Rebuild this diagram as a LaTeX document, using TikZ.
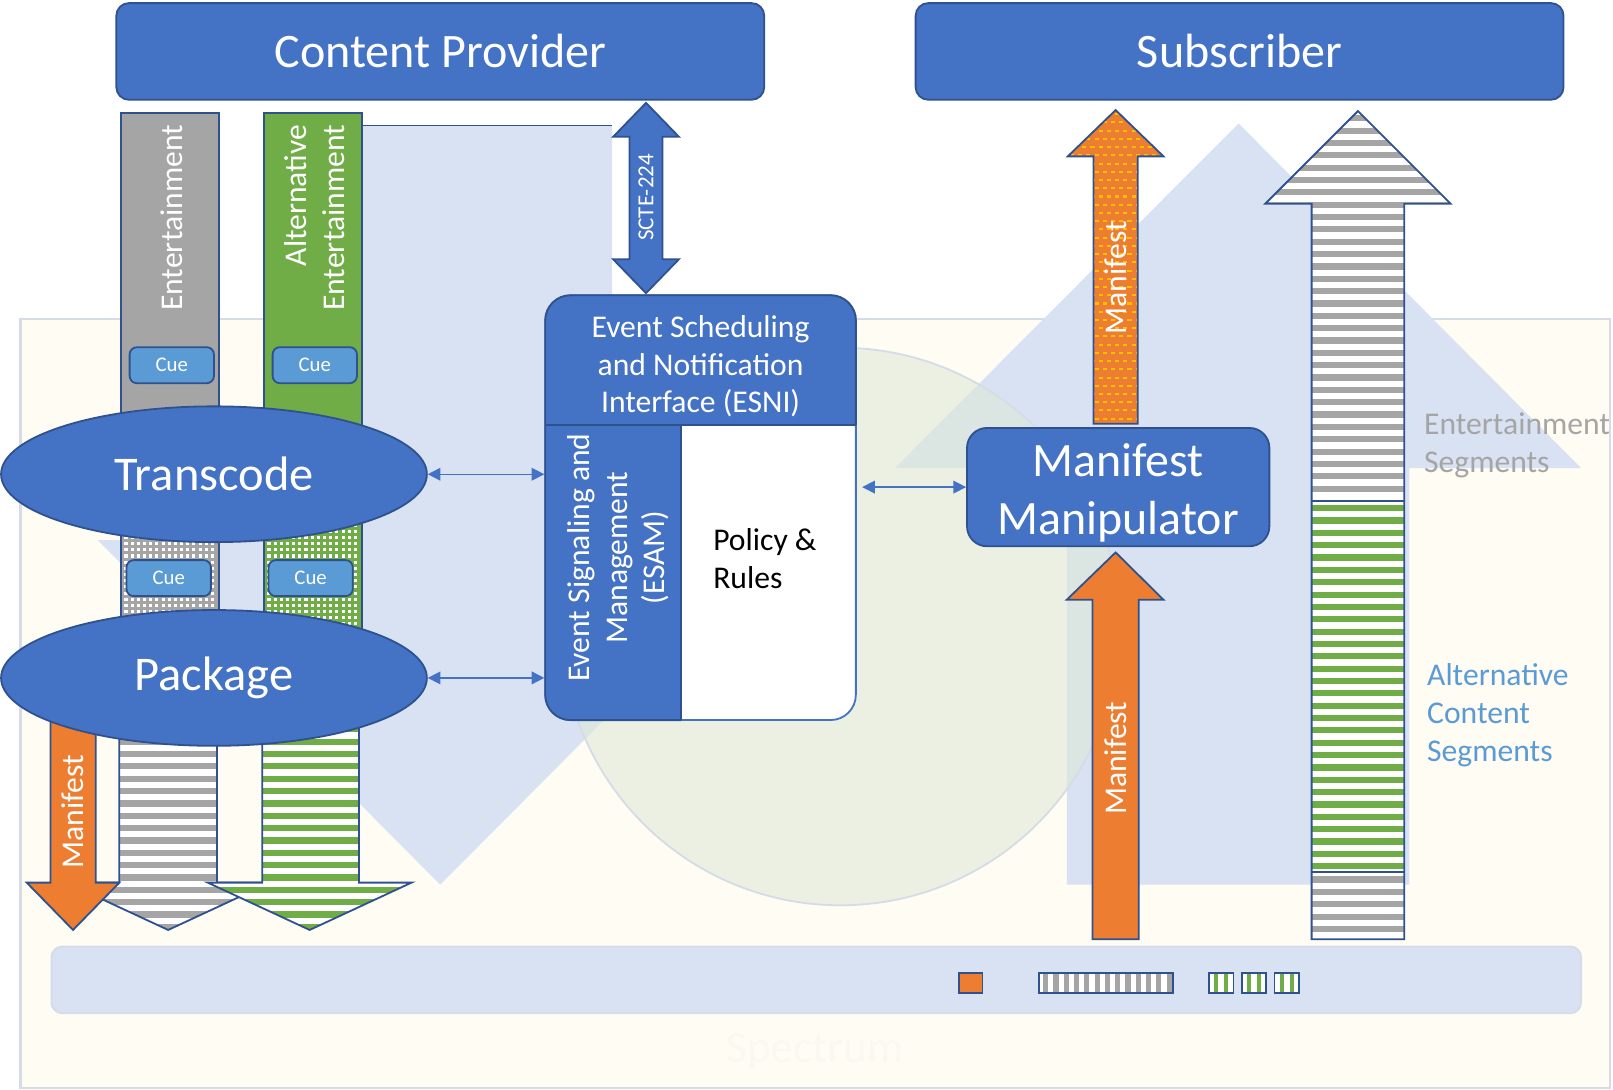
\documentclass[tikz,border=0pt]{standalone}
\usepackage{fontspec}
\setmainfont{Carlito}
\usetikzlibrary{shapes.geometric,arrows.meta}
\definecolor{dblue}{HTML}{4472C4}
\definecolor{bord}{HTML}{2F528F}
\definecolor{cueblue}{HTML}{5B9BD5}
\definecolor{sgray}{HTML}{A5A5A5}
\definecolor{sgreen}{HTML}{70AD47}
\definecolor{sorange}{HTML}{ED7D31}
\definecolor{syellow}{HTML}{FFC000}
\definecolor{lblue}{HTML}{D9E2F3}
\definecolor{cream}{HTML}{FFFCF3}
\definecolor{lbord}{HTML}{D5DCE8}
\definecolor{cgreen}{HTML}{DDE9D8}
\definecolor{spec}{HTML}{FAF8F0}
\begin{document}
\begin{tikzpicture}[x=0.02cm,y=-0.02cm,
  every node/.style={inner sep=0pt},
  boxb/.style={draw=bord,fill=dblue,line width=1pt,rounded corners=7pt,text=white},
  cue/.style={draw=bord,fill=cueblue,line width=1pt,rounded corners=4pt,text=white,minimum width=1.64cm,minimum height=0.7cm,font=\fontsize{11.5}{14}\selectfont},
  ell/.style={ellipse,draw=bord,fill=dblue,line width=1pt,text=white,minimum width=8.28cm,minimum height=2.64cm,font=\fontsize{26.8}{32}\selectfont},
  wtxt/.style={text=white,font=\fontsize{17.5}{21}\selectfont},
  dbl/.style={draw=dblue,line width=0.8pt,{Triangle[length=7pt,width=7pt]}-{Triangle[length=7pt,width=7pt]}},
  outl/.style={draw=bord,line width=1pt},
]
\useasboundingbox (0,0) rectangle (1568,1059);

% ---------- background ----------
\draw[fill=cream,draw=lbord,line width=1.2pt] (20,310) rectangle (1565,1058);
\draw[fill=lblue,draw=lbord,line width=1pt,rounded corners=6pt] (50,920) rectangle (1537,985);
\fill[lblue] (261,122) -- (595,122) -- (595,525) -- (761,525) -- (428,860) -- (95,525) -- (261,525) -- cycle;
\draw[bord,line width=0.6pt] (352,122) -- (595,122);
\fill[lblue] (1204,120) -- (1537,455) -- (1370,455) -- (1370,860) -- (1037,860) -- (1037,455) -- (870,455) -- cycle;
\draw[fill=cgreen,fill opacity=0.58,draw=lbord,line width=1pt] (817,609) circle [radius=271];
\node[text=spec,font=\fontsize{25}{30}\selectfont] (spec) at (792,1022) {Spectrum};

% ---------- band items ----------
\draw[outl,fill=sorange] (932,946) rectangle (955,965);
\fill[white] (1010,946) rectangle (1140,965);
\foreach \x in {1014,1024,...,1134} \fill[sgray] (\x,946) rectangle ({\x+5},965);
\draw[outl] (1010,946) rectangle (1140,965);
\foreach \bx in {1175,1207,1239} {
  \fill[white] (\bx,946) rectangle ({\bx+24},965);
  \fill[sgreen] ({\bx+5},946) rectangle ({\bx+9},965);
  \fill[sgreen] ({\bx+15},946) rectangle ({\bx+19},965);
  \draw[outl] (\bx,946) rectangle ({\bx+24},965);
}

% ---------- top boxes ----------
\node[boxb,minimum width=12.6cm,minimum height=1.88cm,font=\fontsize{26.6}{32}\selectfont] (cp) at (428,50) {Content Provider};
\node[boxb,minimum width=12.6cm,minimum height=1.88cm,font=\fontsize{26.6}{32}\selectfont] (sub) at (1205,50) {Subscriber};

% ---------- SCTE-224 ----------
\draw[outl,fill=dblue] (628,100) -- (660,133) -- (644,133) -- (644,252) -- (660,252) -- (628,285) -- (596,252) -- (612,252) -- (612,133) -- (596,133) -- cycle;
\node[wtxt,rotate=90,font=\fontsize{12.7}{15}\selectfont] (scte) at (628,192) {SCTE-224};

% ---------- upper bars ----------
\draw[outl,fill=sgray] (118,110) rectangle (213,440);
\draw[outl,fill=sgreen] (257,110) rectangle (352,440);
\node[wtxt,rotate=90,anchor=east] (ent) at (167,121) {Entertainment};
\node[wtxt,rotate=90,anchor=east,align=right] (alt) at (306,121) {Alternative\\Entertainment};
\node[cue] (cue1) at (167,355) {Cue};
\node[cue] (cue2) at (306,355) {Cue};

% ---------- dotted bars ----------
\fill[sgray] (118,500) rectangle (213,620);
\foreach \x in {121,127,...,210} \foreach \y in {503,509,...,617} \fill[white] (\x,\y) rectangle ++(3,3);
\draw[outl] (118,500) rectangle (213,620);
\fill[sgreen] (257,500) rectangle (352,620);
\foreach \x in {260,266,...,349} \foreach \y in {503,509,...,617} \fill[white] (\x,\y) rectangle ++(3,3);
\draw[outl] (257,500) rectangle (352,620);
\node[cue] (cue3) at (164,562) {Cue};
\node[cue] (cue4) at (302,562) {Cue};

% ---------- down arrows ----------
\begin{scope}
\clip (116,680) -- (211,680) -- (211,858) -- (262.5,858) -- (163.5,904) -- (64.5,858) -- (116,858) -- cycle;
\fill[white] (60,680) rectangle (270,905);
\foreach \y in {682,694,...,904} \fill[sgray] (60,\y) rectangle (270,{\y+6});
\end{scope}
\draw[outl,line join=round] (116,680) -- (211,680) -- (211,858) -- (262.5,858) -- (163.5,904) -- (64.5,858) -- (116,858) -- cycle;

\draw[outl,fill=sorange] (49,680) -- (93,680) -- (93,858) -- (116,858) -- (71,904) -- (26,858) -- (49,858) -- cycle;
\node[wtxt,rotate=90] (man1) at (71,789) {Manifest};

\begin{scope}
\clip (255,680) -- (349,680) -- (349,858) -- (400,858) -- (301,904) -- (202,858) -- (255,858) -- cycle;
\fill[white] (200,680) rectangle (405,905);
\foreach \y in {682,694,...,904} \fill[sgreen] (200,\y) rectangle (405,{\y+6});
\end{scope}
\draw[outl] (255,680) -- (349,680) -- (349,858) -- (400,858) -- (301,904) -- (202,858) -- (255,858) -- cycle;

% ---------- ellipses ----------
\node[ell] (tc) at (208,461) {Transcode};
\node[ell] (pk) at (208,659) {Package};

% ---------- ESNI box ----------
\node[draw=dblue,fill=white,line width=1pt,rounded corners=14pt,minimum width=6.04cm,minimum height=8.26cm] (esnibox) at (681,493.5) {};
\begin{scope}
\clip[rounded corners=14pt] (530,287) rectangle (832,700);
\fill[dblue] (530,287) rectangle (832,413);
\fill[dblue] (530,413) rectangle (662,700);
\draw[bord,line width=1pt] (530,413) -- (832,413);
\draw[bord,line width=1pt] (662,413) -- (662,700);
\end{scope}
\draw[bord,line width=1pt,rounded corners=14pt] (662,700) -- (530,700) -- (530,287) -- (832,287) -- (832,413);
\node[wtxt,align=center] (esni) at (681,356) {Event Scheduling\\and Notification\\Interface (ESNI)};
\node[wtxt,rotate=90,align=center] (esam) at (601,542) {Event Signaling and\\Management\\(ESAM)};
\node[font=\fontsize{17.5}{21}\selectfont,align=left,anchor=west] (pol) at (693,543) {Policy \&\\Rules};

% ---------- connectors ----------
\draw[dbl] (tc.east) -- (tc.east -| esnibox.west);
\draw[dbl] (pk.east) -- (pk.east -| esnibox.west);

% ---------- Manifest Manipulator ----------
\node[boxb,rounded corners=11pt,minimum width=5.88cm,minimum height=2.3cm,font=\fontsize{26.5}{32}\selectfont,align=center] (mm) at (1087,473.5) {};
\node[text=white,font=\fontsize{26.5}{32}\selectfont,align=center] (mmt) at (1087,479) {Manifest\\Manipulator};
\draw[dbl,shorten <=3pt] (mm.west -| esnibox.east) -- (mm.west);

% ---------- right arrows ----------
\begin{scope}
\clip (1063,412) -- (1063,152) -- (1038,152) -- (1084.5,107) -- (1131,152) -- (1106,152) -- (1106,412) -- cycle;
\fill[sorange] (1030,100) rectangle (1140,415);
\foreach \y in {110,126,...,410} {\foreach \x in {1036,1044,...,1130} \fill[syellow] (\x,\y) rectangle ({\x+4},{\y+2});}
\foreach \y in {118,134,...,410} {\foreach \x in {1040,1048,...,1130} \fill[syellow] (\x,\y) rectangle ({\x+4},{\y+2});}
\end{scope}
\draw[outl] (1063,412) -- (1063,152) -- (1038,152) -- (1084.5,107) -- (1131,152) -- (1106,152) -- (1106,412) -- cycle;
\node[wtxt,rotate=90] (man2) at (1084.5,270) {Manifest};

\draw[outl,fill=sorange] (1062,913) -- (1062,583) -- (1037,583) -- (1084.5,537) -- (1131,583) -- (1107,583) -- (1107,913) -- cycle;
\node[wtxt,rotate=90] (man3) at (1084.5,737) {Manifest};

\begin{scope}
\clip (1275,913) -- (1275,198) -- (1230,198) -- (1320,108) -- (1410,198) -- (1365,198) -- (1365,913) -- cycle;
\fill[white] (1225,100) rectangle (1415,915);
\foreach \y in {112,124,...,480} \fill[sgray] (1225,\y) rectangle (1415,{\y+6});
\foreach \y in {491,503,...,840} \fill[sgreen] (1225,\y) rectangle (1415,{\y+6});
\foreach \y in {852,864,...,910} \fill[sgray] (1225,\y) rectangle (1415,{\y+6});
\end{scope}
\draw[outl] (1275,913) -- (1275,198) -- (1230,198) -- (1320,108) -- (1410,198) -- (1365,198) -- (1365,913) -- cycle;
\draw[outl] (1275,487) -- (1365,487);
\draw[outl] (1275,848) -- (1365,848);

% ---------- labels ----------
\node[text=sgray,font=\fontsize{17.5}{21}\selectfont,align=left,anchor=west] (entseg) at (1384,433) {Entertainment\\Segments};
\node[text=cueblue,font=\fontsize{17.5}{21}\selectfont,align=left,anchor=west] (altseg) at (1387,695) {Alternative\\Content\\Segments};
\end{tikzpicture}
\end{document}
